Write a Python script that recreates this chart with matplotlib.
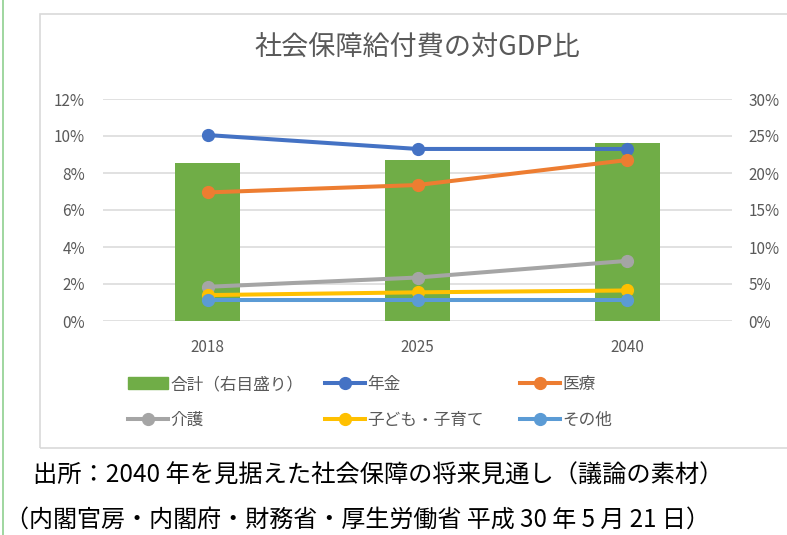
import numpy as np
import matplotlib
matplotlib.use('Agg')
import matplotlib.pyplot as plt
from matplotlib.patches import Rectangle, Patch
from matplotlib.lines import Line2D
from matplotlib.ticker import FuncFormatter

plt.rcParams['font.family'] = ['Noto Sans CJK JP', 'DejaVu Sans']

# data
years = ['2018', '2025', '2040']
total = [21.4, 21.7, 24.0]        # right axis, %
pension = [10.05, 9.3, 9.3]
medical = [6.95, 7.35, 8.7]
care = [1.85, 2.35, 3.25]
children = [1.4, 1.55, 1.65]
other = [1.15, 1.15, 1.15]

series = [
    ('年金', pension, '#4472C4'),
    ('医療', medical, '#ED7D31'),
    ('介護', care, '#A5A5A5'),
    ('子ども・子育て', children, '#FFC000'),
    ('その他', other, '#5B9BD5'),
]
gray = '#595959'
W, H = 787, 535

fig = plt.figure(figsize=(W / 100, H / 100), dpi=100)

# chart frame and the green line on the far left
fig.patches.append(Rectangle((40 / W, 1 - 448 / H), 1.0, (448 - 14) / H,
                             transform=fig.transFigure, fill=False,
                             edgecolor='#d9d9d9', lw=1.2))
fig.lines.append(Line2D([3 / W, 3 / W], [0, 1], transform=fig.transFigure,
                        color='#8fcf8f', lw=1.2))

ax = fig.add_axes([103 / W, 1 - 321 / H, (732 - 103) / W, (321 - 99) / H])
ax2 = ax.twinx()
x = np.arange(len(years))

ax2.bar(x, total, width=0.31, color='#70AD47', zorder=2)
ax2.set_ylim(0, 30)
ax2.set_yticks(np.arange(0, 31, 5))
ax2.yaxis.set_major_formatter(FuncFormatter(lambda v, p: f'{v:.0f}%'))
ax2.grid(axis='y', color='#d9d9d9', lw=1.1, zorder=0)
ax2.set_axisbelow(True)

for name, vals, col in series:
    ax.plot(x, vals, color=col, lw=2.9, marker='o', ms=8.5, zorder=3)
ax.set_ylim(0, 12)
ax.set_yticks(np.arange(0, 13, 2))
ax.yaxis.set_major_formatter(FuncFormatter(lambda v, p: f'{v:.0f}%'))
ax.set_xlim(-0.5, 2.5)
ax.set_xticks(x)
ax.set_xticklabels(years)
ax.set_zorder(ax2.get_zorder() + 1)
ax.patch.set_visible(False)

for a in (ax, ax2):
    for s in a.spines.values():
        s.set_visible(False)
ax.tick_params(axis='y', length=0, pad=13, labelsize=11, labelcolor=gray)
ax.tick_params(axis='x', length=0, pad=13, labelsize=11, labelcolor=gray)
ax2.tick_params(axis='y', length=0, pad=12, labelsize=11, labelcolor=gray)

fig.text(417 / W, 1 - 47 / H, '社会保障給付費の対GDP比', ha='center', va='center',
         fontsize=19.5, color=gray)

# legend, one column at a time so each column sits where the reference has it
def line_handle(col):
    return Line2D([], [], color=col, lw=2.9, marker='o', ms=8.5)

legend_cols = [
    (128, [Patch(color='#70AD47'), line_handle('#A5A5A5')], ['合計（右目盛り）', '介護']),
    (325, [line_handle('#4472C4'), line_handle('#FFC000')], ['年金', '子ども・子育て']),
    (520, [line_handle('#ED7D31'), line_handle('#5B9BD5')], ['医療', 'その他']),
]
for xpos, hs, ls in legend_cols:
    leg = fig.legend(hs, ls, loc='upper left', ncol=1,
                     bbox_to_anchor=(xpos / W, 1 - 376 / H), frameon=False,
                     fontsize=12, labelcolor=gray, handlelength=2.4,
                     handletextpad=0.15, labelspacing=1.15,
                     borderpad=0, borderaxespad=0)

fig.text(33 / W, 1 - 476 / H, '出所：2040 年を見据えた社会保障の将来見通し（議論の素材）',
         ha='left', va='center', fontsize=17.5, color='black')
fig.text(5 / W, 1 - 520 / H, '（内閣官房・内閣府・財務省・厚生労働省 平成 30 年 5 月 21 日）',
         ha='left', va='center', fontsize=17.3, color='black')

fig.savefig('out.png', dpi=100)
